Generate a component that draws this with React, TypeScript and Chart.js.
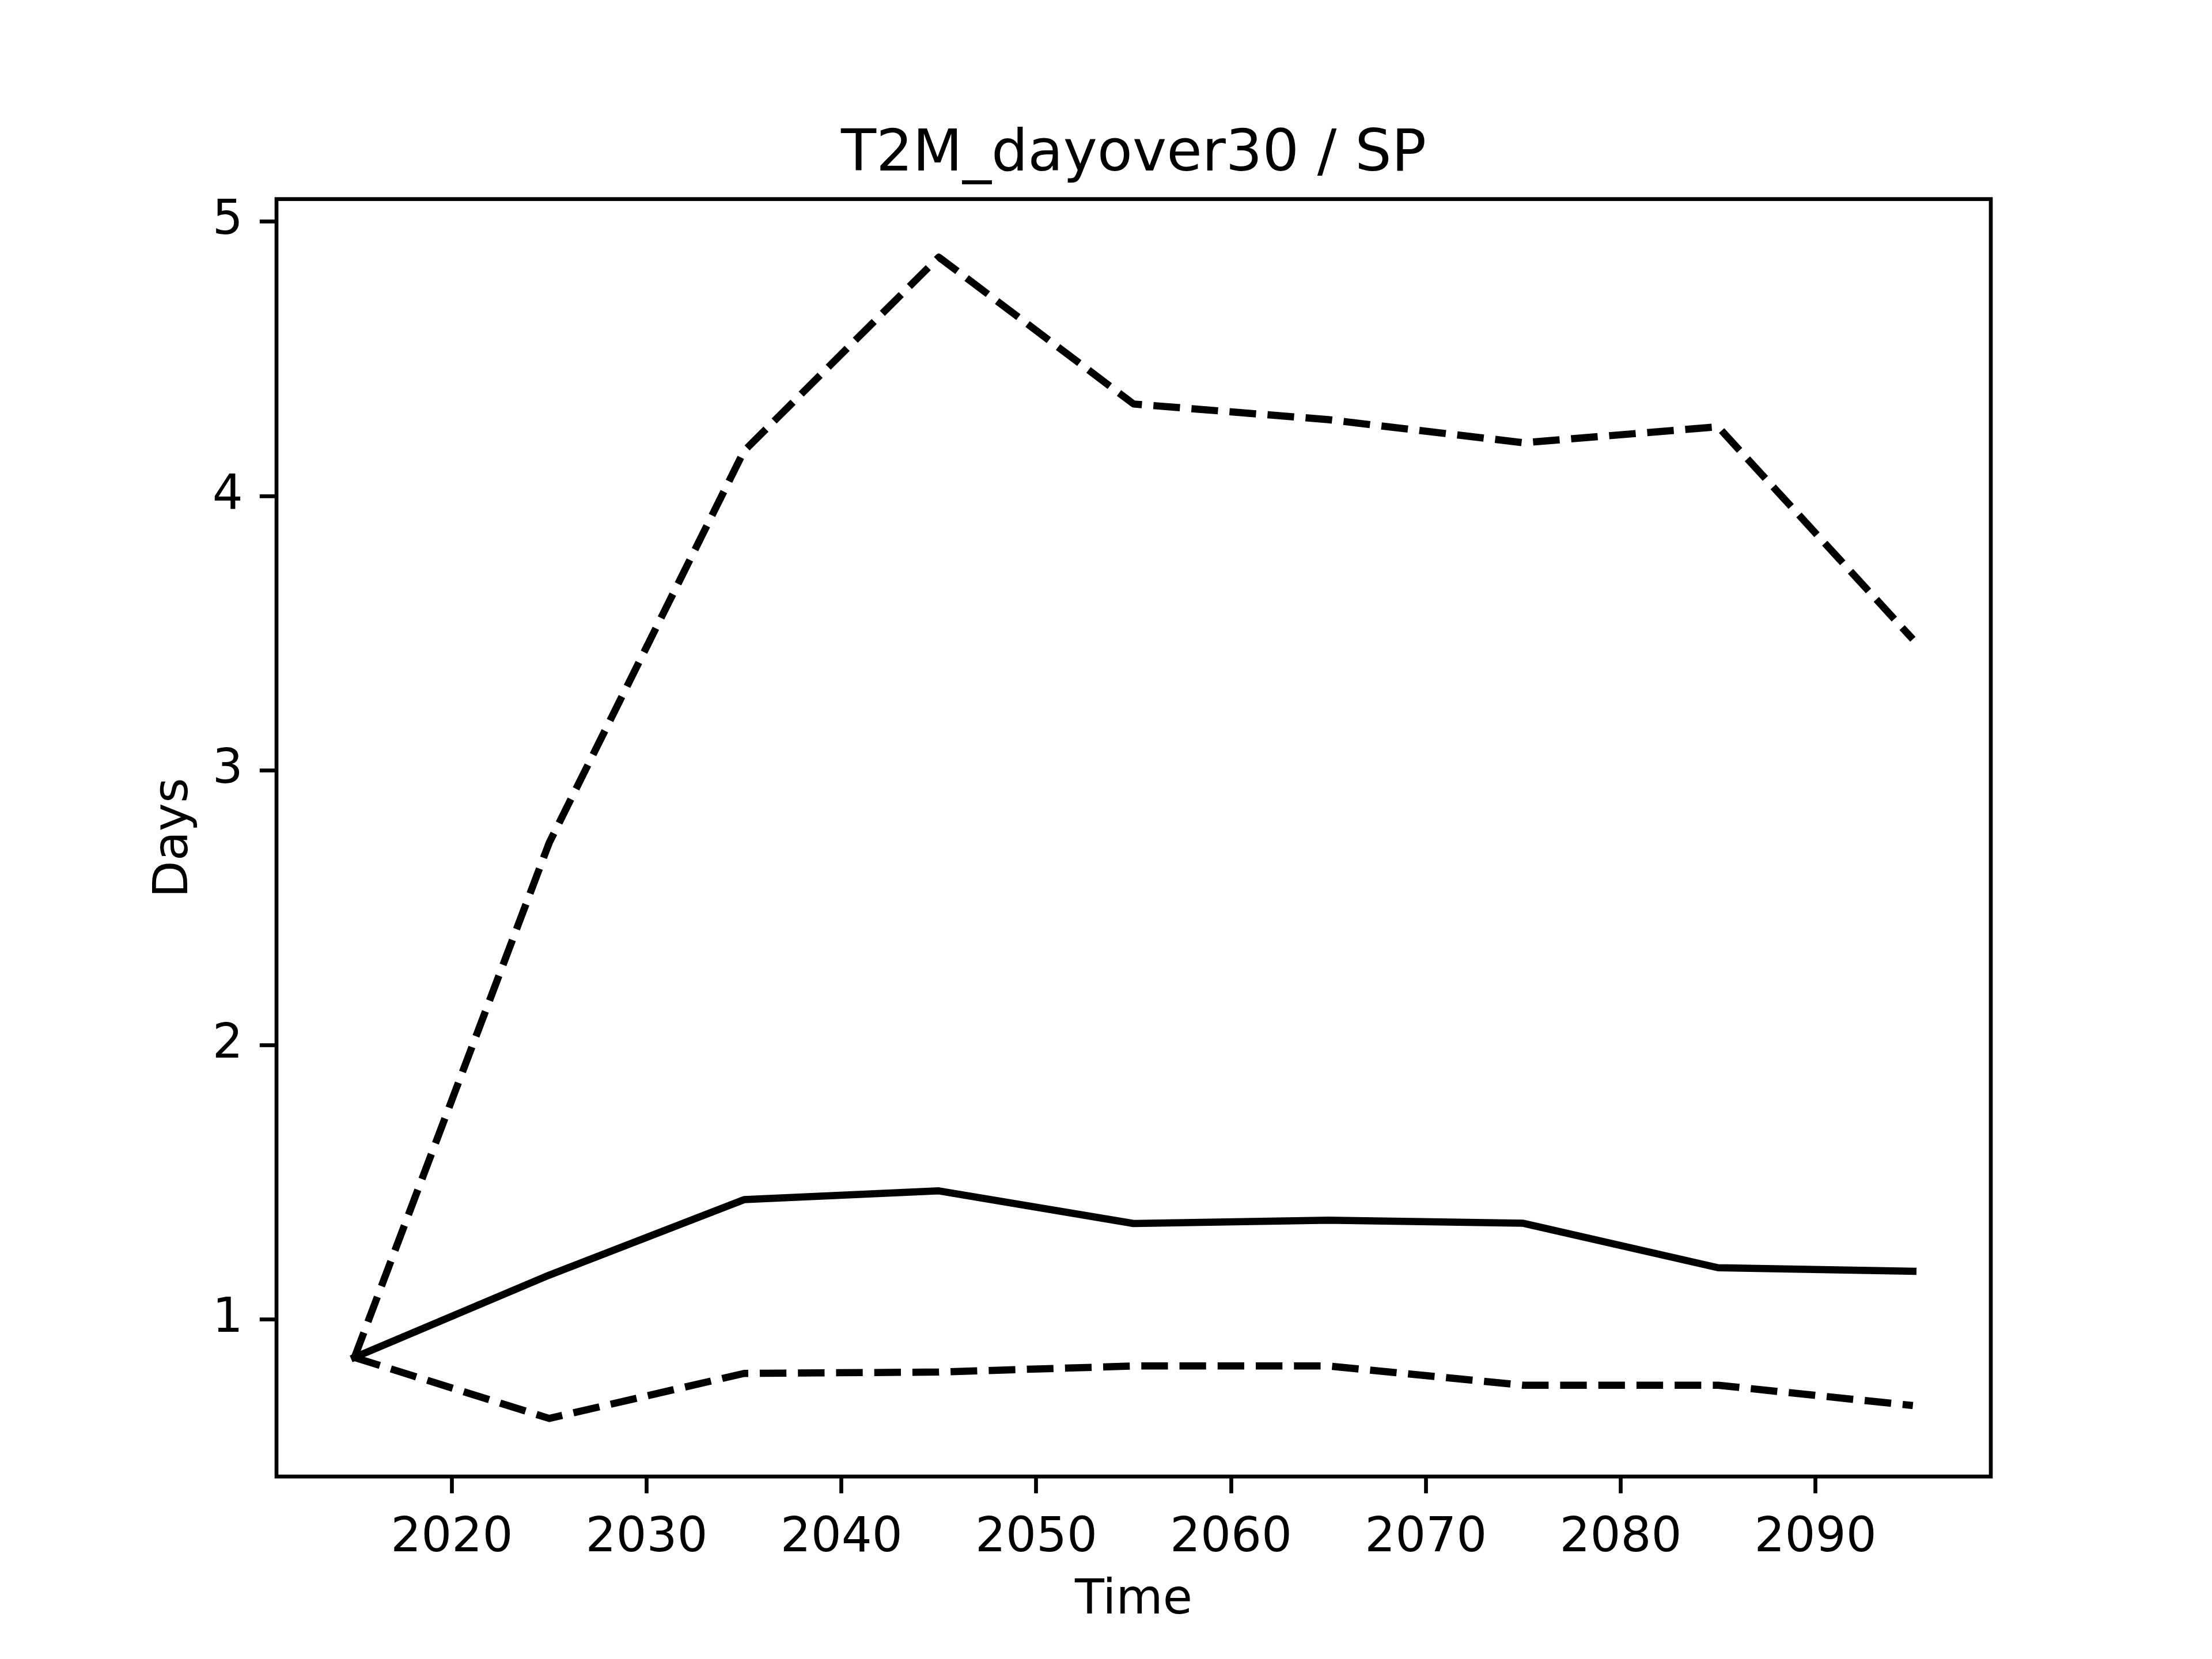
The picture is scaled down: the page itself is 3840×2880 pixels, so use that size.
import React, { useEffect, useRef } from "react";
import { Chart, registerables } from "chart.js";

Chart.register(...registerables);

const TITLE = "T2M_dayover30 / SP";
const X_LABEL = "Time";
const Y_LABEL = "Days";

const YEARS = [2015, 2025, 2035, 2045, 2055, 2065, 2075, 2085, 2095];
const MEAN = [0.862, 1.162, 1.437, 1.469, 1.35, 1.362, 1.351, 1.189, 1.176];
const UPPER = [0.862, 2.737, 4.164, 4.87, 4.335, 4.278, 4.194, 4.252, 3.478];
const LOWER = [0.862, 0.64, 0.804, 0.809, 0.831, 0.831, 0.761, 0.761, 0.687];

const X_TICKS = [2020, 2030, 2040, 2050, 2060, 2070, 2080, 2090];
const Y_TICKS = [1, 2, 3, 4, 5];

const X_MIN = 2011;
const X_MAX = 2099;
const Y_MIN = 0.4285;
const Y_MAX = 5.0815;

const PT = 600 / 72;
const FONT = "DejaVu Sans";

const toPoints = (ys: number[]) => YEARS.map((x, i) => ({ x, y: ys[i] }));

const framePlugin = {
  id: "frameAndText",
  afterDraw(chart: any) {
    const { ctx, chartArea } = chart;
    const { left, right, top, bottom } = chartArea;
    ctx.save();
    ctx.strokeStyle = "#000";
    ctx.lineWidth = 0.8 * PT;
    ctx.lineJoin = "miter";
    ctx.strokeRect(left, top, right - left, bottom - top);

    ctx.fillStyle = "#000";
    ctx.textAlign = "center";
    ctx.textBaseline = "alphabetic";
    ctx.font = `${12 * PT}px "${FONT}"`;
    ctx.fillText(TITLE, (left + right) / 2, top - 6 * PT);

    ctx.font = `${10 * PT}px "${FONT}"`;
    ctx.fillText(X_LABEL, (left + right) / 2, bottom + 237.5);

    ctx.translate(left - 155, (top + bottom) / 2);
    ctx.rotate(-Math.PI / 2);
    ctx.fillText(Y_LABEL, 0, 0);
    ctx.restore();
  },
};

export default function App() {
  const ref = useRef<HTMLCanvasElement | null>(null);

  useEffect(() => {
    document.body.style.margin = "0";
    const canvas = ref.current;
    if (!canvas) return;
    const tickFont = { family: FONT, size: 10 * PT };
    const common = {
      borderColor: "#000",
      backgroundColor: "#000",
      borderWidth: 1.5 * PT,
      pointRadius: 0,
      pointHoverRadius: 0,
      tension: 0,
      fill: false,
      borderJoinStyle: "round" as const,
    };
    const dash = [3.7 * 1.5 * PT, 1.6 * 1.5 * PT];
    const chart = new Chart(canvas, {
      type: "line",
      data: {
        datasets: [
          { ...common, data: toPoints(MEAN), borderCapStyle: "square" as const },
          { ...common, data: toPoints(UPPER), borderDash: dash, borderCapStyle: "butt" as const },
          { ...common, data: toPoints(LOWER), borderDash: dash, borderCapStyle: "butt" as const },
        ],
      },
      options: {
        animation: false,
        responsive: false,
        devicePixelRatio: 1,
        events: [],
        layout: {
          padding: { left: 280, right: 384, top: 345.6, bottom: 2880 - 2563.2 - 200 },
        },
        plugins: {
          legend: { display: false },
          title: { display: false },
          tooltip: { enabled: false },
        },
        scales: {
          x: {
            type: "linear",
            min: X_MIN,
            max: X_MAX,
            afterBuildTicks: (s: any) => {
              s.ticks = X_TICKS.map((v) => ({ value: v }));
            },
            afterFit: (s: any) => {
              s.height = 200;
            },
            ticks: {
              font: tickFont,
              color: "#000",
              padding: 3.5 * PT,
              maxRotation: 0,
              autoSkip: false,
              callback: (v: any) => String(v),
            },
            grid: {
              display: true,
              drawOnChartArea: false,
              drawTicks: true,
              tickLength: 3.5 * PT,
              tickWidth: 0.8 * PT,
              tickColor: "#000",
            },
            border: { display: false },
          },
          y: {
            type: "linear",
            min: Y_MIN,
            max: Y_MAX,
            afterBuildTicks: (s: any) => {
              s.ticks = Y_TICKS.map((v) => ({ value: v }));
            },
            afterFit: (s: any) => {
              s.width = 200;
            },
            ticks: {
              font: tickFont,
              color: "#000",
              padding: 3.5 * PT,
              autoSkip: false,
              callback: (v: any) => String(v),
            },
            grid: {
              display: true,
              drawOnChartArea: false,
              drawTicks: true,
              tickLength: 3.5 * PT,
              tickWidth: 0.8 * PT,
              tickColor: "#000",
            },
            border: { display: false },
          },
        },
      },
      plugins: [framePlugin],
    });
    return () => chart.destroy();
  }, []);

  return (
    <canvas
      ref={ref}
      width={3840}
      height={2880}
      style={{ display: "block", width: 3840, height: 2880 }}
    />
  );
}
